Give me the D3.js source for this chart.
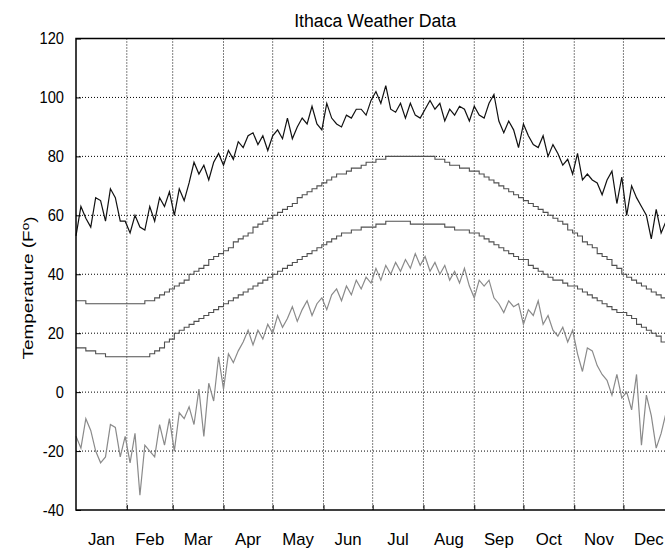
<!DOCTYPE html>
<html>
<head>
<meta charset="utf-8">
<script src="https://cdn.jsdelivr.net/npm/d3@7"></script>
<style>
  body { margin: 0; background: #fff; }
  text { font-family: "Liberation Sans", Arial, sans-serif; fill: #000; }
</style>
</head>
<body>
<svg width="665" height="548"></svg>
<script>
// month names and the day of year (0 = Jan 1) each month starts on
const months = ["Jan", "Feb", "Mar", "Apr", "May", "Jun", "Jul", "Aug", "Sep", "Oct", "Nov", "Dec"];
const monthStarts = [0, 31, 59, 90, 120, 151, 181, 212, 243, 273, 304, 334, 365];
const yTicks = [-40, -20, 0, 20, 40, 60, 80, 100, 120];

// readings every 3 days (deg F)
const stepDays = 3;
const recordHigh = [53,63,59,56,66,65,58,69,66,58, 58,54,60,56,55,63,58,66,63,68,
  60,69,65,71,78,74,77,72,78,81, 77,82,79,85,83,87,88,84,87,82,
  87,89,86,93,86,90,93,91,97,91, 89,98,93,91,90,94,93,96,96,94,
  99,102,98,104,96,95,98,93,98,94, 93,96,99,96,98,92,96,94,97,96,
  92,97,94,93,98,101,92,88,92,89, 83,91,87,84,83,87,80,84,81,77,
  79,74,81,72,74,72,71,67,72,75, 64,73,60,70,66,63,60,52,62,54, 58,65];
const normalHigh = [31,31,30,30,30,30,30,30,30,30, 30,30,30,30,31,31,32,33,34,35,
  36,37,38,40,41,42,43,45,46,47, 48,49,51,52,53,54,56,57,58,59,
  60,61,62,63,64,66,67,68,69,70, 71,72,73,74,74,75,76,76,77,78,
  78,79,79,80,80,80,80,80,80,80, 80,80,80,79,79,78,77,77,76,76,
  75,75,74,73,72,71,70,69,68,67, 66,65,64,63,62,61,60,59,58,57,
  55,54,53,51,50,49,47,46,45,43, 42,40,39,38,37,36,35,34,33,32, 31,31];
const normalLow = [15,15,14,14,13,13,12,12,12,12, 12,12,12,12,12,13,14,15,17,18,
  20,21,22,23,24,25,26,27,28,29, 30,31,32,33,34,35,36,37,38,39,
  40,41,42,43,44,45,46,47,48,49, 50,51,52,53,54,54,55,55,56,56,
  56,57,57,58,58,58,58,58,57,57, 57,57,57,57,57,56,56,55,55,55,
  54,54,53,52,51,50,49,48,47,46, 45,45,43,42,41,40,39,38,38,37,
  36,36,35,34,33,32,31,30,29,28, 27,27,26,25,23,22,21,20,19,17, 16,15];
const recordLow = [-15,-19,-9,-13,-20,-24,-22,-11,-12,-22, -15,-24,-14,-35,-18,-20,-22,-11,-18,-9,
  -20,-7,-9,-5,-11,1,-15,3,-3,12, 1,13,10,14,17,21,16,21,18,23,
  20,26,22,25,29,24,28,31,26,30, 32,28,33,35,31,36,33,38,35,39,
  37,42,38,43,40,44,41,45,42,47, 43,46,41,44,40,43,38,41,37,42,
  36,32,38,36,38,32,30,27,31,29, 30,23,28,26,31,23,26,21,19,22,
  17,21,13,7,15,14,9,6,4,-1, 6,-2,0,-6,6,-18,-1,-8,-19,-14, -7,-10];

const svg = d3.select("svg"),
  margin = { top: 38.5, left: 76, bottom: 38 },
  height = 548 - margin.top - margin.bottom;

const x = d3.scaleLinear().domain([0, 365]).range([margin.left, margin.left + 365 * 1.639]);
const y = d3.scaleLinear().domain([-40, 120]).range([margin.top + height, margin.top]);
const x0 = x.range()[0], x1 = x.range()[1], yTop = y(120), yBot = y(-40);

// dotted grid
svg.append("g").selectAll("line")
  .data(monthStarts.slice(1, -1))
  .join("line")
  .attr("x1", d => x(d)).attr("x2", d => x(d))
  .attr("y1", yTop).attr("y2", yBot)
  .attr("stroke", "#000").attr("stroke-dasharray", "1,2");
svg.append("g").selectAll("line")
  .data(yTicks.slice(1, -1))
  .join("line")
  .attr("x1", x0).attr("x2", x1)
  .attr("y1", d => y(d)).attr("y2", d => y(d))
  .attr("stroke", "#000").attr("stroke-dasharray", "1,2");

// lines
const lineFor = (vals, curve) => d3.line()
  .x((d, i) => x(i * stepDays))
  .y(d => y(d))
  .curve(curve)(vals);

const series = [
  { vals: normalHigh, color: "#505050", w: 1.1, curve: d3.curveStepAfter },
  { vals: normalLow, color: "#505050", w: 1.1, curve: d3.curveStepAfter },
  { vals: recordLow, color: "#8a8a8a", w: 1.2, curve: d3.curveLinear },
  { vals: recordHigh, color: "#111", w: 1.2, curve: d3.curveLinear }
];
svg.append("g").selectAll("path")
  .data(series)
  .join("path")
  .attr("d", s => lineFor(s.vals, s.curve))
  .attr("fill", "none")
  .attr("stroke", s => s.color)
  .attr("stroke-width", s => s.w);

// tick marks (inward)
const gy = svg.append("g").attr("transform", `translate(${x0},0)`)
  .call(d3.axisLeft(y).tickValues(yTicks).tickSize(-5).tickFormat("").tickSizeOuter(0));
gy.select(".domain").remove();
const gx = svg.append("g").attr("transform", `translate(0,${yBot})`)
  .call(d3.axisBottom(x).tickValues(monthStarts.slice(1, -1)).tickSize(-5).tickFormat("").tickSizeOuter(0));
gx.select(".domain").remove();

// tick labels (the picture's text is a little stretched)
svg.append("g").selectAll("text")
  .data(yTicks)
  .join("text")
  .attr("transform", d => `translate(${x0 - 12},${y(d)}) scale(1.05,1.15)`)
  .attr("dy", "0.35em")
  .attr("text-anchor", "end")
  .style("font-size", "14px")
  .text(d => d);

const mids = months.map((m, i) => (monthStarts[i] + monthStarts[i + 1]) / 2);
svg.append("g").selectAll("text")
  .data(mids)
  .join("text")
  .attr("transform", d => `translate(${x(d)},545) scale(1.2,1.15)`)
  .attr("text-anchor", "middle")
  .style("font-size", "14px")
  .text((d, i) => months[i]);

// box (right side falls outside the picture)
svg.append("path")
  .attr("d", `M${x1},${yTop}H${x0}V${yBot}H${x1}`)
  .attr("fill", "none").attr("stroke", "#000").attr("stroke-width", 1.5);

// title and y label
svg.append("text")
  .attr("transform", `translate(${(x0 + x1) / 2},26.5) scale(1.18,1.2)`)
  .attr("text-anchor", "middle")
  .style("font-size", "15px")
  .text("Ithaca Weather Data");

const yl = svg.append("text")
  .attr("transform", `translate(28,288) rotate(-90) scale(1.35,1.05)`)
  .attr("dy", "0.35em")
  .attr("text-anchor", "middle")
  .style("font-size", "14px");
yl.append("tspan").text("Temperature (F");
yl.append("tspan").attr("dy", "-0.4em").style("font-size", "10px").text("o");
yl.append("tspan").attr("dy", "0.4em").text(")");
</script>
</body>
</html>
